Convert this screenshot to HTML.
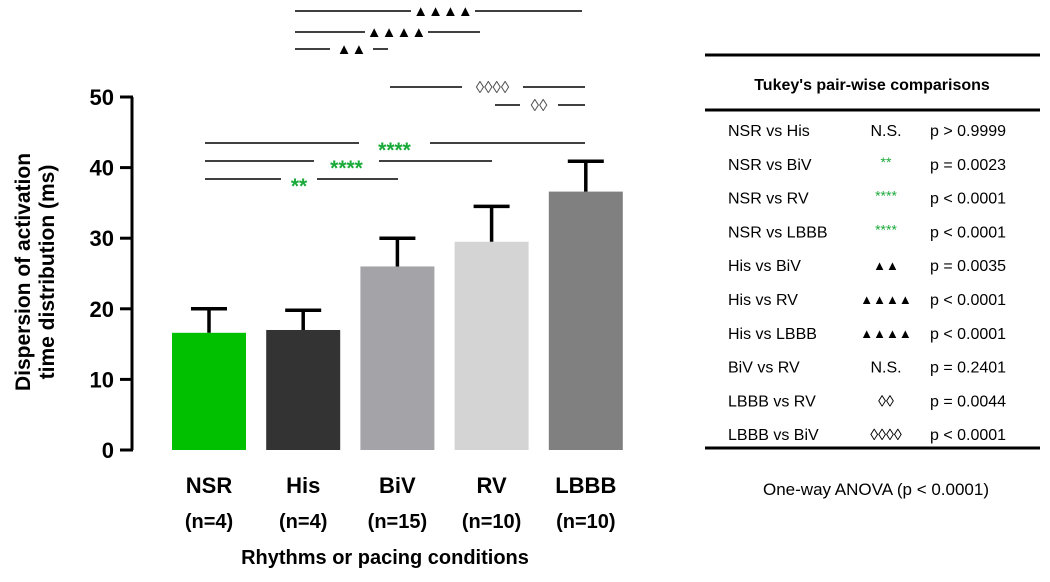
<!DOCTYPE html>
<html><head><meta charset="utf-8"><style>
body{margin:0;background:#fff;}
svg text{font-family:"Liberation Sans",Arial,sans-serif;}
</style></head><body>
<svg width="1050" height="577" viewBox="0 0 1050 577">
<g id="plot"></g>
<g id="table"></g>
</svg>
<script>
const categories=["NSR","His","BiV","RV","LBBB"];
const ns=["(n=4)","(n=4)","(n=15)","(n=10)","(n=10)"];
const means=[16.6,17.0,26.0,29.5,36.6];
const errs=[3.4,2.8,4.0,5.0,4.3];
const colors=["#00c000","#333333","#a3a3a8","#d4d4d4","#808080"];
const yTicks=[0,10,20,30,40,50];
const rowsName=["NSR vs His","NSR vs BiV","NSR vs RV","NSR vs LBBB","His vs BiV","His vs RV","His vs LBBB","BiV vs RV","LBBB vs RV","LBBB vs BiV"];
const rowsSig=["N.S.","**","****","****","▲▲","▲▲▲▲","▲▲▲▲","N.S.","◊◊","◊◊◊◊"];
const rowsP=["p > 0.9999","p = 0.0023","p < 0.0001","p < 0.0001","p = 0.0035","p < 0.0001","p < 0.0001","p = 0.2401","p = 0.0044","p < 0.0001"];

const NS="http://www.w3.org/2000/svg";
const plot=document.getElementById('plot'), table=document.getElementById('table');
function el(p,t,a){const e=document.createElementNS(NS,t);for(const k in a)e.setAttribute(k,a[k]);p.appendChild(e);return e;}
const y=v=>450-v*7.06;
const xc=i=>209+i*94.2;
const bw=74;
let ax=el(plot,'line',{x1:132,y1:y(0),x2:132,y2:y(50),stroke:'#000','stroke-width':3});

yTicks.forEach(t=>{
 let l=el(plot,'line',{x1:120,y1:y(t),x2:133,y2:y(t),stroke:'#000','stroke-width':3});
 
 let tx=el(plot,'text',{x:114,y:y(t)+8,'text-anchor':'end','font-size':22,'font-weight':'bold'});
 tx.textContent=t;
 
});
categories.forEach((c,i)=>{
 let r=el(plot,'rect',{x:xc(i)-bw/2,y:y(means[i]),width:bw,height:y(0)-y(means[i]),fill:colors[i]});
 
 let top=y(means[i]+errs[i]);
 let s=el(plot,'path',{d:`M${xc(i)} ${y(means[i])}V${top}M${xc(i)-18} ${top}H${xc(i)+18}`,stroke:'#000','stroke-width':3.5,fill:'none'});
 
 let t=el(plot,'text',{x:xc(i),y:493,'text-anchor':'middle','font-size':22,'font-weight':'bold'});t.textContent=c;
 
 let t2=el(plot,'text',{x:xc(i),y:528,'text-anchor':'middle','font-size':20,'font-weight':'bold'});t2.textContent=ns[i];
 
});
let xt=el(plot,'text',{x:385,y:564,'text-anchor':'middle','font-size':20,'font-weight':'bold'});xt.textContent='Rhythms or pacing conditions';

let yt=el(plot,'text',{transform:'translate(30,272) rotate(-90)','text-anchor':'middle','font-size':21,'font-weight':'bold'});yt.textContent='Dispersion of activation';

let yt2=el(plot,'text',{transform:'translate(54,272) rotate(-90)','text-anchor':'middle','font-size':21,'font-weight':'bold'});yt2.textContent='time distribution (ms)';

// brackets [x1,x2,y,gapL,gapR,label,color,size,dy]
const brackets=[[295,582,11,411,475,'▲▲▲▲','#000',15,5],[295,480,32,365,428,'▲▲▲▲','#000',15,5],[295,388,49,330,373,'▲▲','#000',15,5],
[390,585,87,462,523,'◊◊◊◊','#555',17,6],[495,585,105,520,558,'◊◊','#555',17,6],
[205,585,143,359,430,'****','#1aaa3a',21,14],[205,492,161,314,379,'****','#1aaa3a',21,14],[205,398,179,281,317,'**','#1aaa3a',21,14]];
brackets.forEach(b=>{
 let p=el(plot,'path',{d:`M${b[0]} ${b[2]}H${b[3]}M${b[4]} ${b[2]}H${b[1]}`,stroke:'#000','stroke-width':1.5});
 
 let t=el(plot,'text',{x:(b[3]+b[4])/2,y:b[2]+b[8],'text-anchor':'middle','font-size':b[7],fill:b[6],'font-weight':b[7]==21?'bold':'normal'});
 t.textContent=b[5];
 
});
[[55,3],[110,3],[448,3]].forEach(l=>{
 let ln=el(table,'line',{x1:705,x2:1040,y1:l[0],y2:l[0],stroke:'#000','stroke-width':l[1]});
 
});
let th=el(table,'text',{x:872,y:90,'text-anchor':'middle','font-size':16,'font-weight':'bold'});th.textContent="Tukey's pair-wise comparisons";

rowsName.forEach((n,i)=>{
 const yy=136+i*33.8;
 let a=el(table,'text',{x:728,y:yy,'font-size':16});a.textContent=n;
 
 const sig=rowsSig[i];const green=sig.includes('*');
 let b=el(table,'text',{x:886,y:green?yy-3:(sig.includes('▲')?yy-1:yy),'text-anchor':'middle','font-size':sig.includes('▲')?13:(sig.includes('◊')?16:(green?14:16)),fill:green?'#1aaa3a':'#000'});b.textContent=sig;
 
 let c=el(table,'text',{x:930,y:yy,'font-size':16});c.textContent=rowsP[i];
 
});
let an=el(table,'text',{x:876,y:495,'text-anchor':'middle','font-size':17});an.textContent='One-way ANOVA (p < 0.0001)';

</script>
</body></html>
